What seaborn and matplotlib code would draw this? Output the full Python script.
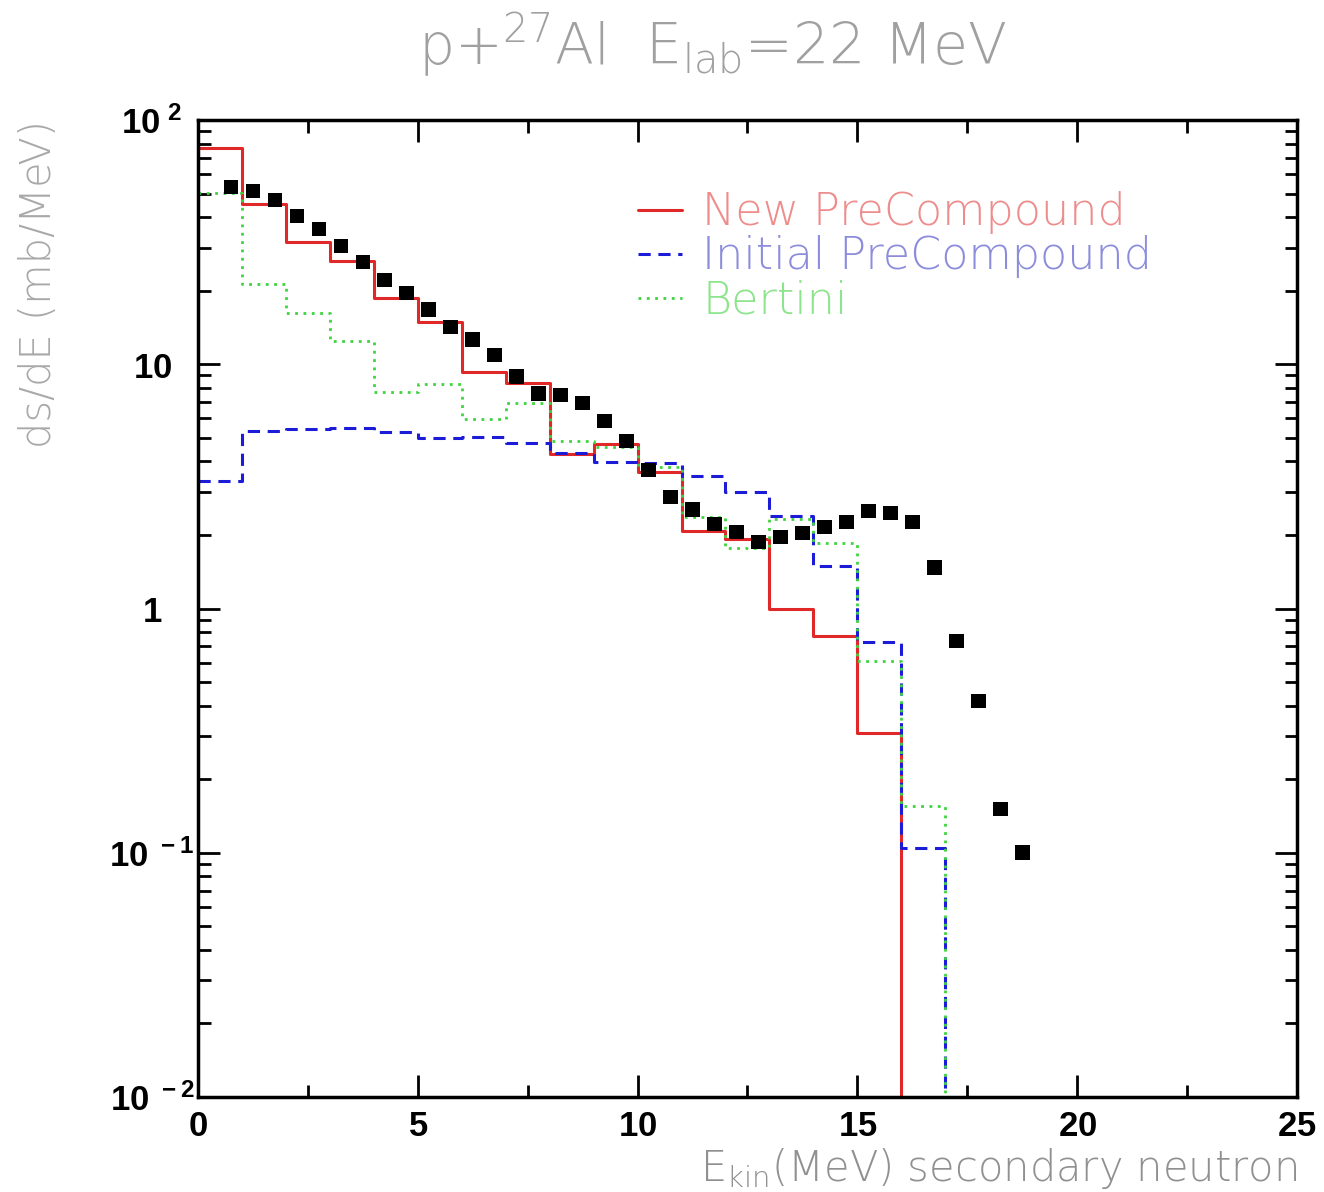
import seaborn as sns
import matplotlib.pyplot as plt
from matplotlib.ticker import FixedLocator, FixedFormatter, MultipleLocator, LogLocator, NullFormatter

# histogram bin edges (MeV) and bin contents (mb/MeV)
edges = list(range(0, 19))
new_precompound = [76.8, 45.3, 31.7, 26.5, 18.7, 14.9, 9.3, 8.4, 4.3, 4.7,
                   3.62, 2.08, 1.93, 1.0, 0.77, 0.31, 0.0, 0.0]
initial_precompound = [3.33, 5.33, 5.43, 5.49, 5.3, 5.0, 5.05, 4.77, 4.33, 3.98,
                       3.95, 3.49, 3.0, 2.4, 1.5, 0.73, 0.105, 0.0]
bertini = [50.2, 21.3, 16.2, 12.4, 7.7, 8.3, 5.97, 6.95, 4.85, 4.6,
           3.8, 2.37, 1.77, 2.33, 1.85, 0.61, 0.155, 0.0]

# experimental points
exp_energy = [0.75, 1.25, 1.75, 2.25, 2.75, 3.25, 3.75, 4.25, 4.75, 5.25,
              5.75, 6.25, 6.75, 7.25, 7.75, 8.25, 8.75, 9.25, 9.75, 10.25,
              10.75, 11.25, 11.75, 12.25, 12.75, 13.25, 13.75, 14.25, 14.75, 15.25,
              15.75, 16.25, 16.75, 17.25, 17.75, 18.25, 18.75]
exp_xsec = [53.2, 51.2, 47.1, 40.5, 35.8, 30.5, 26.2, 22.1, 19.6, 16.8,
            14.2, 12.6, 10.9, 8.9, 7.6, 7.5, 6.95, 5.86, 4.85, 3.69,
            2.86, 2.54, 2.22, 2.06, 1.87, 1.96, 2.04, 2.16, 2.26, 2.51,
            2.46, 2.26, 1.47, 0.735, 0.419, 0.151, 0.1]

x_ticks = [0, 5, 10, 15, 20, 25]
x_tick_labels = [r'$\mathbf{0}$', r'$\mathbf{5}$', r'$\mathbf{10}$',
                 r'$\mathbf{15}$', r'$\mathbf{20}$', r'$\mathbf{25}$']
y_ticks = [0.01, 0.1, 1, 10, 100]
y_tick_labels = [r'$\mathbf{10^{\ -2}}$', r'$\mathbf{10^{\ -1}}$', r'$\mathbf{1}$',
                 r'$\mathbf{10}$', r'$\mathbf{10^{\ 2}}$']

sns.set_theme(style='ticks')
plt.rcParams['font.family'] = ['DejaVu Sans']
plt.rcParams['mathtext.fontset'] = 'custom'
plt.rcParams['mathtext.bf'] = 'Liberation Sans:bold'
plt.rcParams['mathtext.default'] = 'regular'

fig, ax = plt.subplots(figsize=(13.24, 11.92), dpi=100)
fig.subplots_adjust(left=0.1495, right=0.9796, bottom=0.0797, top=0.8993)


def steps(vals):
    return vals + [vals[-1]]


sns.lineplot(x=edges, y=steps(new_precompound), drawstyle='steps-post',
             estimator=None, sort=False, color='#e02828', linewidth=2.2,
             label='New PreCompound', ax=ax)
sns.lineplot(x=edges, y=steps(initial_precompound), drawstyle='steps-post',
             estimator=None, sort=False, color='#1c1cd8', linewidth=2.2,
             linestyle=(0, (4, 2.5)), label='Initial PreCompound', ax=ax)
sns.lineplot(x=edges, y=steps(bertini), drawstyle='steps-post',
             estimator=None, sort=False, color='#3ed43e', linewidth=2.0,
             linestyle=(0, (1, 2)), label='Bertini', ax=ax)
sns.scatterplot(x=exp_energy, y=exp_xsec, marker='s', s=110, color='black',
                edgecolor='none', zorder=5, ax=ax)

ax.set_yscale('log')
ax.set_xlim(0, 25)
ax.set_ylim(0.01, 100)

ax.xaxis.set_major_locator(FixedLocator(x_ticks))
ax.xaxis.set_major_formatter(FixedFormatter(x_tick_labels))
ax.xaxis.set_minor_locator(MultipleLocator(2.5))
ax.yaxis.set_major_locator(FixedLocator(y_ticks))
ax.yaxis.set_major_formatter(FixedFormatter(y_tick_labels))
ax.yaxis.set_minor_locator(LogLocator(base=10, subs=range(2, 10)))
ax.yaxis.set_minor_formatter(NullFormatter())

ax.tick_params(which='both', direction='in', top=True, right=True,
               width=2, color='black', labelcolor='black')
ax.tick_params(which='major', length=16)
ax.tick_params(which='minor', length=9)
ax.tick_params(axis='x', which='major', labelsize=25, pad=9)
ax.tick_params(axis='y', which='major', labelsize=25, pad=33)
for lab in ax.get_yticklabels():
    lab.set_horizontalalignment('center')

for sp in ax.spines.values():
    sp.set_linewidth(2.5)
    sp.set_color('black')

ax.set_ylabel('ds/dE (mb/MeV)', loc='top', fontsize=30, color='#a8a8a8',
              fontweight=200)
ax.yaxis.set_label_coords(-0.126, 1.0)
ax.set_xlabel(r'E$_{kin}$(MeV) secondary neutron', loc='right', fontsize=30,
              color='#909090', fontweight=200)
ax.xaxis.set_label_coords(1.0, -0.05)

fig.text(0.538, 0.962, r'p+$^{27}$Al  E$_{lab}$=22 MeV', ha='center', va='center',
         fontsize=41, color='#a0a0a0', fontweight=200)

ax.legend(loc='upper left', bbox_to_anchor=(0.40, 0.927), frameon=False,
          prop={'size': 32, 'weight': 200}, handlelength=1.0, handletextpad=0.45,
          labelspacing=0.02, borderaxespad=0, borderpad=0,
          labelcolor=['#ee8c8c', '#8c8cdc', '#8ce48c'])

fig.savefig('out.png', dpi=100)
